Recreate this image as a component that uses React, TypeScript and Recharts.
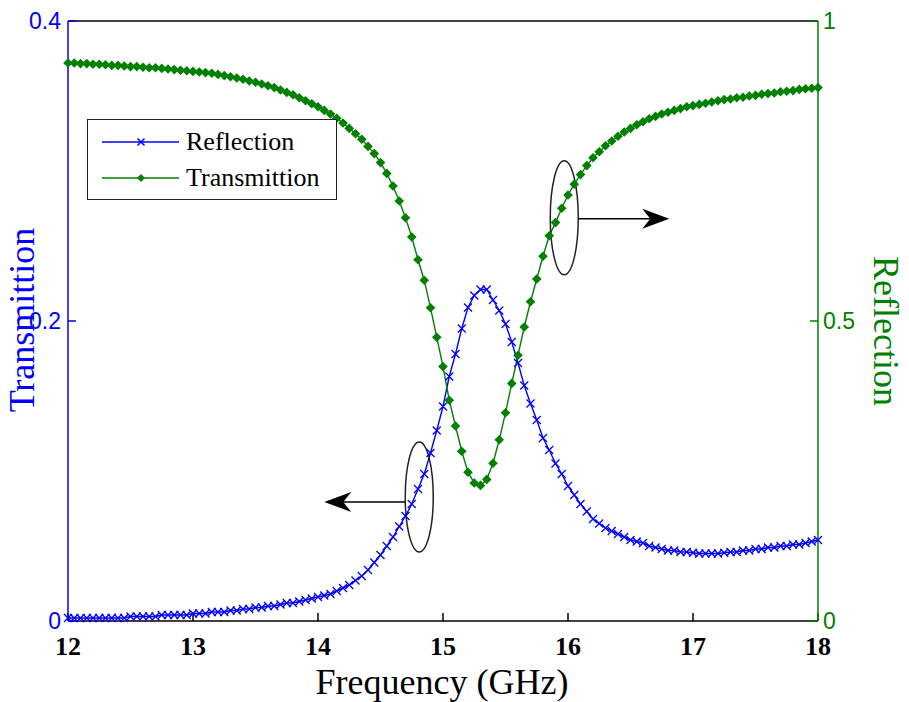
import { LineChart, Line, XAxis, YAxis, Legend, ReferenceDot, ReferenceLine } from 'recharts';

const freq = [
  12.0, 12.05, 12.1, 12.15, 12.2, 12.25, 12.3, 12.35, 12.4, 12.45,
  12.5, 12.55, 12.6, 12.65, 12.7, 12.75, 12.8, 12.85, 12.9, 12.95,
  13.0, 13.05, 13.1, 13.15, 13.2, 13.25, 13.3, 13.35, 13.4, 13.45,
  13.5, 13.55, 13.6, 13.65, 13.7, 13.75, 13.8, 13.85, 13.9, 13.95,
  14.0, 14.05, 14.1, 14.15, 14.2, 14.25, 14.3, 14.35, 14.4, 14.45,
  14.5, 14.55, 14.6, 14.65, 14.7, 14.75, 14.8, 14.85, 14.9, 14.95,
  15.0, 15.05, 15.1, 15.15, 15.2, 15.25, 15.3, 15.35, 15.4, 15.45,
  15.5, 15.55, 15.6, 15.65, 15.7, 15.75, 15.8, 15.85, 15.9, 15.95,
  16.0, 16.05, 16.1, 16.15, 16.2, 16.25, 16.3, 16.35, 16.4, 16.45,
  16.5, 16.55, 16.6, 16.65, 16.7, 16.75, 16.8, 16.85, 16.9, 16.95,
  17.0, 17.05, 17.1, 17.15, 17.2, 17.25, 17.3, 17.35, 17.4, 17.45,
  17.5, 17.55, 17.6, 17.65, 17.7, 17.75, 17.8, 17.85, 17.9, 17.95,
  18.0,
];

// blue, left axis (0 - 0.4)
const reflection = [
  0.002, 0.002, 0.002, 0.002, 0.002, 0.002, 0.002, 0.002, 0.002, 0.002,
  0.003, 0.003, 0.003, 0.003, 0.003, 0.004, 0.004, 0.004, 0.004, 0.004,
  0.005, 0.005, 0.005, 0.006, 0.006, 0.006, 0.007, 0.007, 0.008, 0.008,
  0.009, 0.009, 0.01, 0.01, 0.011, 0.012, 0.012, 0.013, 0.014, 0.015,
  0.016, 0.017, 0.018, 0.02, 0.022, 0.024, 0.027, 0.03, 0.034, 0.039,
  0.044, 0.05, 0.056, 0.063, 0.07, 0.078, 0.088, 0.098, 0.112, 0.127,
  0.143, 0.163, 0.178, 0.195, 0.209, 0.217, 0.221, 0.221, 0.214, 0.207,
  0.198, 0.186, 0.172, 0.157, 0.145, 0.134, 0.122, 0.114, 0.105, 0.098,
  0.09, 0.084, 0.078, 0.073, 0.068, 0.065, 0.062, 0.06, 0.058, 0.056,
  0.054, 0.053, 0.052, 0.05, 0.049, 0.048, 0.047, 0.047, 0.046, 0.046,
  0.0455, 0.045, 0.045, 0.045, 0.045, 0.0455, 0.046, 0.046, 0.047, 0.047,
  0.048, 0.048, 0.049, 0.049, 0.05, 0.05, 0.051, 0.051, 0.052, 0.053,
  0.054,
];

// green, right axis (0 - 1)
const transmittion = [
  0.93, 0.93, 0.929, 0.929, 0.928, 0.928, 0.927, 0.926, 0.926, 0.925,
  0.924, 0.924, 0.923, 0.922, 0.922, 0.921, 0.92, 0.919, 0.918, 0.917,
  0.916, 0.915, 0.914, 0.913, 0.911, 0.909, 0.907, 0.905, 0.903, 0.9,
  0.898, 0.895, 0.892, 0.889, 0.885, 0.881, 0.877, 0.872, 0.867, 0.862,
  0.857, 0.851, 0.845, 0.838, 0.83, 0.821, 0.812, 0.803, 0.791, 0.779,
  0.764, 0.746, 0.725, 0.7, 0.672, 0.64, 0.602, 0.568, 0.522, 0.473,
  0.424, 0.368, 0.325, 0.283, 0.248, 0.23, 0.226, 0.236, 0.263, 0.302,
  0.347, 0.396, 0.443, 0.49, 0.532, 0.57, 0.608, 0.642, 0.664, 0.688,
  0.71, 0.728, 0.744, 0.759, 0.772, 0.782, 0.792, 0.8, 0.808, 0.815,
  0.821, 0.827, 0.832, 0.837, 0.841, 0.845, 0.848, 0.851, 0.854, 0.857,
  0.859, 0.861, 0.863, 0.865, 0.867, 0.869, 0.87, 0.872, 0.873, 0.875,
  0.876, 0.878, 0.879, 0.88, 0.882, 0.883, 0.884, 0.886, 0.887, 0.888,
  0.889,
];

const xTicks = [12, 13, 14, 15, 16, 17, 18];
const leftTicks = [0, 0.2, 0.4];
const rightTicks = [0, 0.5, 1];

const data = freq.map((f, i) => ({ f, reflection: reflection[i], transmittion: transmittion[i] }));

const BLUE = '#0000ff';
const GREEN = '#008000';
const serif = '"Liberation Serif", "Times New Roman", serif';
const sans = '"Liberation Sans", Arial, sans-serif';

const CrossDot = (p: any) => {
  const { cx, cy, index } = p;
  const s = 4;
  return (
    <path key={`x${index}`} d={`M${cx - s},${cy - s}L${cx + s},${cy + s}M${cx - s},${cy + s}L${cx + s},${cy - s}`}
      stroke={BLUE} strokeWidth={1.3} fill="none" />
  );
};

const DiamondDot = (p: any) => {
  const { cx, cy, index } = p;
  const s = 4.8;
  return <path key={`d${index}`} d={`M${cx},${cy - s}L${cx + s},${cy}L${cx},${cy + s}L${cx - s},${cy}Z`} fill={GREEN} />;
};

// ellipse with an arrow pointing left
const LeftMarker = (p: any) => {
  const { cx, cy } = p;
  const y = cy + 5;
  const tip = cx - 95;
  return (
    <g>
      <ellipse cx={cx} cy={cy} rx={14} ry={55} fill="none" stroke="#222" strokeWidth={1.5} />
      <line x1={cx - 14} y1={y} x2={tip + 10} y2={y} stroke="#000" strokeWidth={1.5} />
      <path d={`M${tip},${y}L${tip + 27},${y - 10}L${tip + 19},${y}L${tip + 27},${y + 10}Z`} fill="#000" />
    </g>
  );
};

// ellipse with an arrow pointing right
const RightMarker = (p: any) => {
  const { cx, cy } = p;
  const y = cy + 1;
  const tip = cx + 105;
  return (
    <g>
      <ellipse cx={cx} cy={cy} rx={14} ry={57} fill="none" stroke="#222" strokeWidth={1.5} />
      <line x1={cx + 14} y1={y} x2={tip - 10} y2={y} stroke="#000" strokeWidth={1.5} />
      <path d={`M${tip},${y}L${tip - 27},${y - 10}L${tip - 19},${y}L${tip - 27},${y + 10}Z`} fill="#000" />
    </g>
  );
};

const XTick = (p: any) => (
  <text x={p.x} y={p.y} textAnchor="middle" dominantBaseline="central" fontFamily={serif} fontWeight="bold"
    fontSize={26} fill="#000">{p.payload.value}</text>
);

const LeftTick = (p: any) => (
  <text x={p.x} y={p.y} textAnchor="end" dominantBaseline="central" fontFamily={sans} fontSize={23} fill={BLUE}>
    {p.payload.value}
  </text>
);

const RightTick = (p: any) => (
  <text x={p.x} y={p.y} textAnchor="start" dominantBaseline="central" fontFamily={sans} fontSize={23} fill={GREEN}>
    {p.payload.value}
  </text>
);

const LegendBox = () => (
  <div style={{ width: 248, height: 79, border: '1.5px solid #222', background: '#fff', fontFamily: serif, fontSize: 26, color: '#000' }}>
    {[
      { name: 'Reflection', color: BLUE, cross: true },
      { name: 'Transmittion', color: GREEN, cross: false },
    ].map((it, i) => (
      <div key={it.name} style={{ display: 'flex', alignItems: 'center', height: 36, marginTop: i === 0 ? 4 : 0 }}>
        <svg width={98} height={20} style={{ flex: 'none' }}>
          <line x1={14} y1={10} x2={91} y2={10} stroke={it.color} strokeWidth={1.5} />
          {it.cross ? (
            <path d="M49.5,6.5L56.5,13.5M49.5,13.5L56.5,6.5" stroke={it.color} strokeWidth={1.5} />
          ) : (
            <path d="M53,6L57,10L53,14L49,10Z" fill={it.color} />
          )}
        </svg>
        <span style={{ lineHeight: 1 }}>{it.name}</span>
      </div>
    ))}
  </div>
);

const titleStyle = { fontFamily: 'Liberation Serif', fontSize: 36 };

export default function App() {
  return (
    <div style={{ position: 'absolute', left: 0, top: 0, width: 909, height: 702, background: '#fff' }}>
      <LineChart width={909} height={702} data={data} margin={{ top: 21, right: 0, bottom: 0, left: 0 }}>
        <XAxis dataKey="f" type="number" domain={[12, 18]} ticks={xTicks} height={81}
          axisLine={{ stroke: '#000', strokeWidth: 1.5 }} tickLine={{ stroke: '#000', strokeWidth: 1.5 }}
          tickSize={-8} tickMargin={33} tick={XTick}
          label={{ content: () => (
            <text x={442} y={694} textAnchor="middle" style={titleStyle} fill="#000">Frequency (GHz)</text>
          ) }} />
        <YAxis yAxisId="left" orientation="left" domain={[0, 0.4]} ticks={leftTicks} width={68}
          axisLine={{ stroke: BLUE, strokeWidth: 1.5 }} tickLine={{ stroke: BLUE, strokeWidth: 1.5 }}
          tickSize={-8} tickMargin={15} tick={LeftTick}
          label={{ content: () => (
            <text transform="translate(34,320) rotate(-90)" textAnchor="middle" style={titleStyle} fill={BLUE}>Transmittion</text>
          ) }} />
        <YAxis yAxisId="right" orientation="right" domain={[0, 1]} ticks={rightTicks} width={91}
          axisLine={{ stroke: GREEN, strokeWidth: 1.5 }} tickLine={{ stroke: GREEN, strokeWidth: 1.5 }}
          tickSize={-8} tickMargin={13} tick={RightTick}
          label={{ content: () => (
            <text transform="translate(874,331) rotate(90)" textAnchor="middle" style={titleStyle} fill={GREEN}>Reflection</text>
          ) }} />
        <ReferenceLine yAxisId="left" y={0.4} stroke="#000" strokeWidth={1.5} />
        <Legend align="center" verticalAlign="middle" content={LegendBox}
          wrapperStyle={{ left: 87, top: 119, width: 250, height: 81 }} />
        <Line yAxisId="left" type="linear" dataKey="reflection" name="Reflection" stroke={BLUE} strokeWidth={1.4}
          dot={CrossDot} activeDot={false} isAnimationActive={false} />
        <Line yAxisId="right" type="linear" dataKey="transmittion" name="Transmittion" stroke={GREEN} strokeWidth={1.4}
          dot={DiamondDot} activeDot={false} isAnimationActive={false} />
        <ReferenceDot yAxisId="left" x={14.81} y={0.0827} r={14} shape={LeftMarker} />
        <ReferenceDot yAxisId="right" x={15.97} y={0.672} r={14} shape={RightMarker} />
      </LineChart>
    </div>
  );
}
